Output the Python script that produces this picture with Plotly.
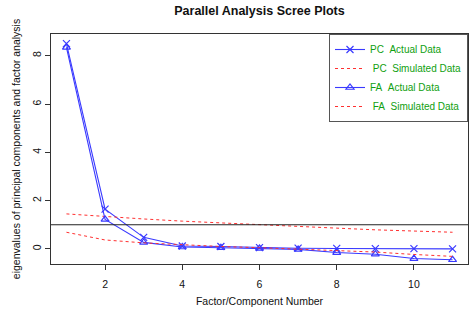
import plotly.graph_objects as go

factor_number = [1, 2, 3, 4, 5, 6, 7, 8, 9, 10, 11]
pc_actual = [8.5, 1.65, 0.48, 0.12, 0.10, 0.05, 0.03, 0.02, 0.01, 0.01, 0.0]
pc_simulated = [1.45, 1.33, 1.24, 1.15, 1.07, 0.99, 0.93, 0.86, 0.79, 0.73, 0.69]
fa_actual = [8.35, 1.22, 0.27, 0.08, 0.05, 0.02, -0.02, -0.15, -0.22, -0.40, -0.45]
fa_simulated = [0.69, 0.37, 0.25, 0.16, 0.10, 0.05, 0.0, -0.07, -0.13, -0.23, -0.31]
y_ticks = [0, 2, 4, 6, 8]
x_ticks = [2, 4, 6, 8, 10]

FONT = "Liberation Sans, Arial, sans-serif"
NB = "\u00a0"

fig = go.Figure()
fig.add_trace(go.Scatter(
    x=factor_number, y=pc_actual, mode="lines+markers",
    name=f"PC{NB}{NB}Actual Data",
    line=dict(color="#3a3aff", width=1.1),
    marker=dict(symbol="x-thin-open", size=7, color="#3a3aff",
                line=dict(color="#3a3aff", width=1.2)),
))
fig.add_trace(go.Scatter(
    x=factor_number, y=pc_simulated, mode="lines",
    name=f"{NB}PC{NB}{NB}Simulated Data",
    line=dict(color="#ff3030", width=1, dash="dot"),
))
fig.add_trace(go.Scatter(
    x=factor_number, y=fa_actual, mode="lines+markers",
    name=f"FA{NB}{NB}Actual Data",
    line=dict(color="#3a3aff", width=1.1),
    marker=dict(symbol="triangle-up-open", size=7, color="#3a3aff",
                line=dict(color="#3a3aff", width=1.2)),
))
fig.add_trace(go.Scatter(
    x=factor_number, y=fa_simulated, mode="lines",
    name=f"{NB}FA{NB}{NB}Simulated Data",
    line=dict(color="#ff3030", width=1, dash="dot"),
))

fig.add_hline(y=1, line=dict(color="#222222", width=1))

fig.update_layout(
    width=472, height=311,
    margin=dict(l=51, r=4, t=34, b=47),
    paper_bgcolor="white", plot_bgcolor="white",
    font=dict(family=FONT, size=10.5, color="#111111"),
    title=dict(text="<b>Parallel Analysis Scree Plots</b>",
               x=0.5, xanchor="center", y=1 - 11 / 311, yanchor="middle",
               yref="container", xref="paper",
               font=dict(family=FONT, size=12.5, color="#111111")),
    showlegend=True,
    legend=dict(x=1, y=1, xanchor="right", yanchor="top",
                bgcolor="white", bordercolor="#555555", borderwidth=1,
                font=dict(family=FONT, size=10, color="#10a010"),
                tracegroupgap=0, itemwidth=30),
)
fig.update_xaxes(
    range=[0.6, 11.4], tickvals=x_ticks, ticks="outside", ticklen=5,
    tickcolor="#333333", showgrid=False, zeroline=False,
    showline=True, linecolor="#333333", linewidth=1, mirror=True,
    ticklabelstandoff=5,
    title=dict(text="Factor/Component Number", standoff=9,
               font=dict(size=10.5)),
    tickfont=dict(size=10.5),
)
fig.update_yaxes(
    range=[-0.625, 8.9], tickvals=y_ticks, ticks="outside", ticklen=5,
    tickcolor="#333333", showgrid=False, zeroline=False, tickangle=-90,
    showline=True, linecolor="#333333", linewidth=1, mirror=True,
    title=dict(text="eigenvalues of principal components and factor analysis",
               standoff=8, font=dict(size=10.5)),
    tickfont=dict(size=10.5),
)

fig.write_html("out.html", config={"displayModeBar": False},
               post_script="document.body.style.margin='0';document.body.style.overflow='hidden';")
